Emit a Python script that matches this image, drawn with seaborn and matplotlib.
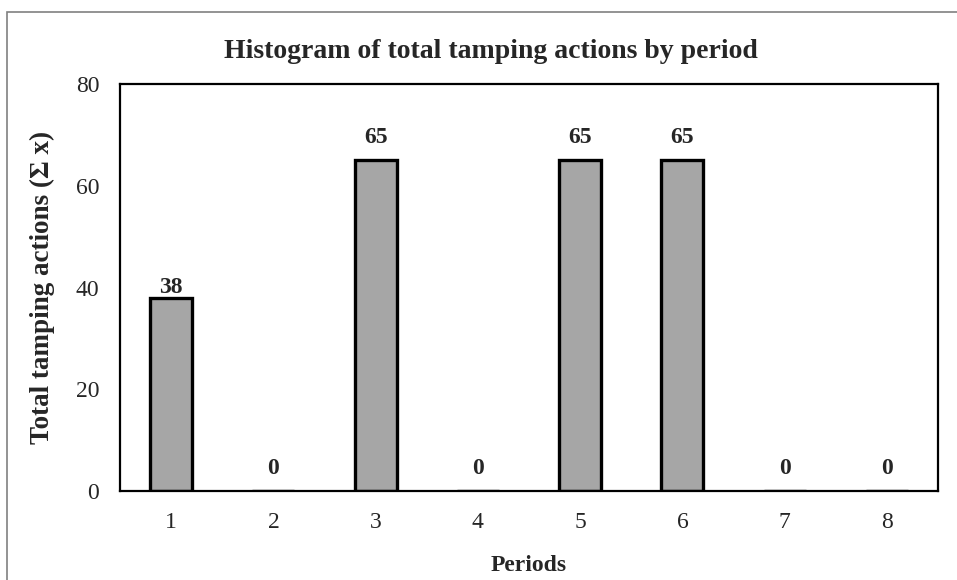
import matplotlib
matplotlib.use("Agg")
import matplotlib.pyplot as plt
import seaborn as sns
import pandas as pd
from matplotlib.patches import Rectangle

periods = ["1", "2", "3", "4", "5", "6", "7", "8"]
totals = [38, 0, 65, 0, 65, 65, 0, 0]

sns.set_style("white")
plt.rcParams['font.family'] = ['Liberation Serif', 'DejaVu Serif']

df = pd.DataFrame({"period": periods, "total": totals})

fig = plt.figure(figsize=(9.57, 5.8), dpi=100)
ax = fig.add_axes([0.1254, 0.1534, 0.8548, 0.7017])

sns.barplot(data=df, x="period", y="total", color="#a6a6a6", saturation=1,
            edgecolor="black", linewidth=2.4, width=0.41, ax=ax)

# labels above bars (the 38 label sits closer to its bar in the original)
for i, v in enumerate(totals):
    off = 7 if 0 < v < 50 else 16.5
    ax.annotate(str(v), (i, v), xytext=(0, off), textcoords="offset points",
                ha="center", va="center", fontsize=17, fontweight="bold")

ax.set_ylim(0, 80)
ax.set_xlim(-0.5, 7.5)
ax.set_yticks([0, 20, 40, 60, 80])
ax.tick_params(axis="y", direction="in", length=4, width=1.5, labelsize=17, pad=15)
ax.tick_params(axis="x", which="major", length=0, labelsize=17, pad=15)
ax.set_xticks([0.5, 1.5, 2.5, 3.5, 4.5, 5.5, 6.5], minor=True)
ax.tick_params(axis="x", which="minor", direction="in", length=4, width=1.5)

for s in ax.spines.values():
    s.set_visible(True)
    s.set_color("black")
    s.set_linewidth(1.6)

# title is centred on the chart area, not on the plot box
fig.text(491 / 957, 1 - 51 / 580, "Histogram of total tamping actions by period",
         fontsize=20, fontweight="bold", ha="center", va="center")
ax.set_xlabel("Periods", fontsize=17, fontweight="bold", labelpad=16)
ax.set_ylabel("Total tamping actions (\u03a3 x)", fontsize=19.5, fontweight="bold", labelpad=15)

# outer chart border (top and left visible)
fig.patches.append(Rectangle((7 / 957, -0.1), 1.2, 1 - 12 / 580 + 0.1,
                             transform=fig.transFigure, fill=False,
                             edgecolor="#808080", linewidth=1.2))

fig.savefig("out.png", dpi=100)
